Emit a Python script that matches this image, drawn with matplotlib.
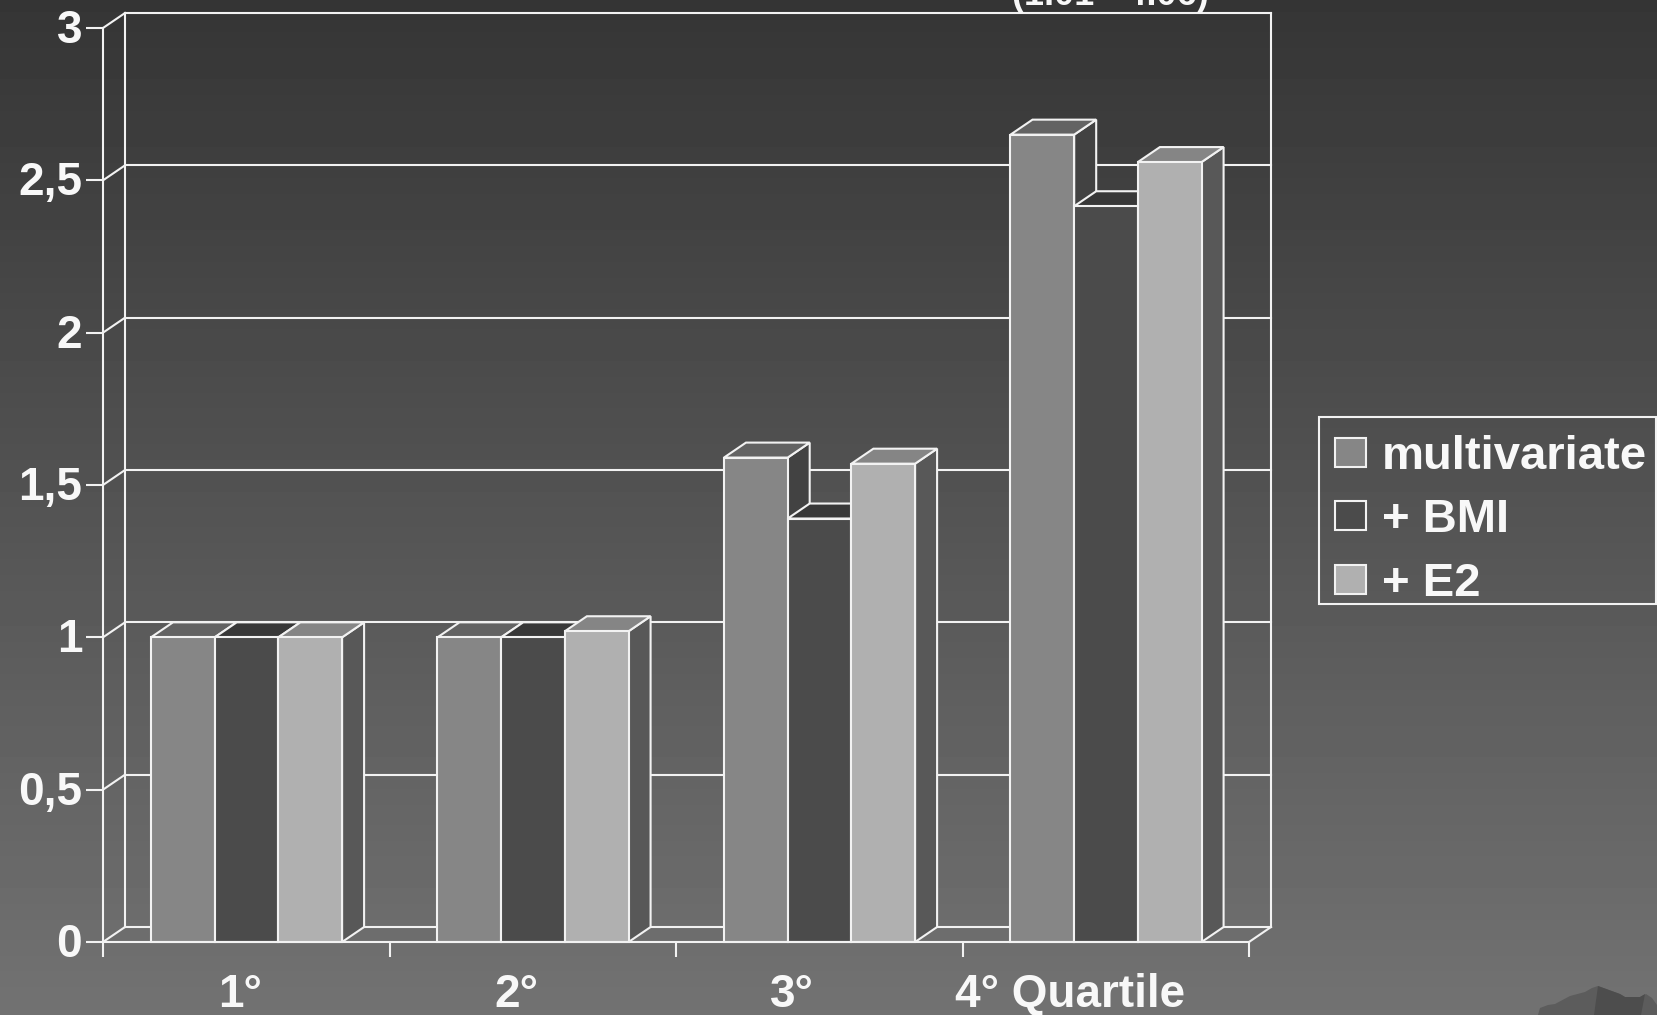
import matplotlib
matplotlib.use('Agg')
import matplotlib.pyplot as plt
from matplotlib.patches import Polygon, Patch, Rectangle
from matplotlib.transforms import ScaledTranslation
import numpy as np

plt.rcParams['font.family'] = ['Liberation Sans', 'DejaVu Sans']
plt.rcParams['font.weight'] = 'bold'

series = ['multivariate', '+ BMI', '+ E2']
multivariate = [1.0, 1.0, 1.59, 2.65]
bmi = [1.0, 1.0, 1.39, 2.415]
e2 = [1.0, 1.02, 1.57, 2.56]
y_ticks = [0, 0.5, 1, 1.5, 2, 2.5, 3]
y_labels = ['0', '0,5', '1', '1,5', '2', '2,5', '3']
x_labels = ['1°', '2°', '3°', '4° Quartile']
ci_text = '(1.01 - 4.06)'

W, H = 1657, 1015
LINE = '#f2f2f2'
front = ['#868686', '#4b4b4b', '#b0b0b0']
tops = ['#636363', '#383838', '#858585']
sides = ['#424242', '#303030', '#585858']

fig = plt.figure(figsize=(W / 100, H / 100), dpi=100)

# background gradient
bg = fig.add_axes([0, 0, 1, 1], zorder=0)
bg.imshow(np.linspace(0, 1, 256).reshape(-1, 1), aspect='auto', cmap='gray',
          vmin=-0.87, vmax=3.31, extent=[0, W, H, 0])
bg.set_xlim(0, W)
bg.set_ylim(H, 0)
bg.axis('off')

# rock in the corner of the slide
bg.add_patch(Polygon([(1538, 1015), (1540, 1008), (1548, 1005), (1555, 1004), (1570, 996),
                      (1585, 992), (1592, 988), (1598, 986), (1620, 994), (1625, 997),
                      (1640, 997), (1646, 994), (1652, 998), (1657, 1005), (1657, 1015)],
                     fc='#5c5c5c', ec='none'))
bg.add_patch(Polygon([(1598, 986), (1620, 994), (1625, 997), (1640, 997), (1645, 994),
                      (1641, 1015), (1594, 1015)], fc='#4d4d4d', ec='none'))

# legend box runs off the slide on the right
bg.add_patch(Rectangle((1319, 417), 337, 187, fc='none', ec=LINE, lw=1.5))

ax = fig.add_axes([103 / W, 1 - 942 / H, 1146 / W, 914 / H], zorder=1)
ax.patch.set_alpha(0)
ax.set_xlim(0, 4)
ax.set_ylim(0, 3)

# depth of the fake 3d, in data units
dx = 22 / 286.5
dy = 15 / 305
lw = 1.5


def line(xs, ys, z=1):
    ax.plot(xs, ys, color=LINE, lw=lw, clip_on=False, zorder=z, solid_capstyle='projecting')


# walls and grid
line([dx, dx], [dy, 3 + dy])
line([4 + dx, 4 + dx], [dy, 3 + dy])
line([4, 4 + dx], [0, dy])
for v in y_ticks:
    line([dx, 4 + dx], [v + dy, v + dy])
    line([0, dx], [v, v + dy])

# bars, left to right so that the later ones cover the earlier ones
bar_w = 63.7 / 286.5
gap = 0.1675
z = 2
for g in range(4):
    for s, vals in enumerate([multivariate, bmi, e2]):
        x0 = g + gap + s * bar_w
        x1 = x0 + bar_w
        v = vals[g]
        ax.add_patch(Polygon([(x1, 0), (x1 + dx, dy), (x1 + dx, v + dy), (x1, v)],
                             fc=sides[s], ec=LINE, lw=lw, clip_on=False, zorder=z))
        ax.add_patch(Polygon([(x0, v), (x1, v), (x1 + dx, v + dy), (x0 + dx, v + dy)],
                             fc=tops[s], ec=LINE, lw=lw, clip_on=False, zorder=z))
        ax.add_patch(Polygon([(x0, 0), (x1, 0), (x1, v), (x0, v)],
                             fc=front[s], ec=LINE, lw=lw, clip_on=False, zorder=z))
        z += 1

for sp in ['top', 'right']:
    ax.spines[sp].set_visible(False)
for sp in ['left', 'bottom']:
    ax.spines[sp].set_color(LINE)
    ax.spines[sp].set_linewidth(lw)
    ax.spines[sp].set_zorder(50)

ax.set_yticks(y_ticks)
ax.set_yticklabels(y_labels)
ax.set_xticks(range(5))
ax.set_xticklabels([])
ax.tick_params(axis='y', length=12, width=lw, color=LINE, labelcolor='#f8f8f8',
               labelsize=33, pad=3)
ax.tick_params(axis='x', length=11, width=lw, color=LINE)
up = ScaledTranslation(0, 2 / 100, fig.dpi_scale_trans)
for lab in ax.get_yticklabels():
    lab.set_transform(lab.get_transform() + up)

# category labels sit left of the group centres
label_x = [0.479, 1.443, 2.403, 2.974]
for xp, lab, ha in zip(label_x, x_labels, ['center', 'center', 'center', 'left']):
    ax.annotate(lab, xy=(xp, 0), xycoords=ax.get_xaxis_transform(),
                xytext=(0, -53), textcoords='offset pixels', ha=ha, va='center',
                color='#f8f8f8', fontsize=33, annotation_clip=False)

# confidence interval text, cut by the top of the slide
fig.text(1110 / W, 1 - 5 / H, ci_text, ha='center', va='baseline', color='#f8f8f8',
         fontsize=26)

handles = [Patch(fc=front[i], ec=LINE, lw=lw, label=series[i]) for i in range(3)]
leg = fig.legend(handles=handles, loc='upper left', bbox_to_anchor=(1319 / W, 1 - 419 / H),
                 borderaxespad=0, fontsize=34, frameon=False,
                 labelcolor='#f8f8f8',
                 handlelength=0.66, handleheight=0.57, handletextpad=0.33,
                 borderpad=0.34, labelspacing=0.41)
leg.set_zorder(60)

fig.savefig('out.png', dpi=100)
